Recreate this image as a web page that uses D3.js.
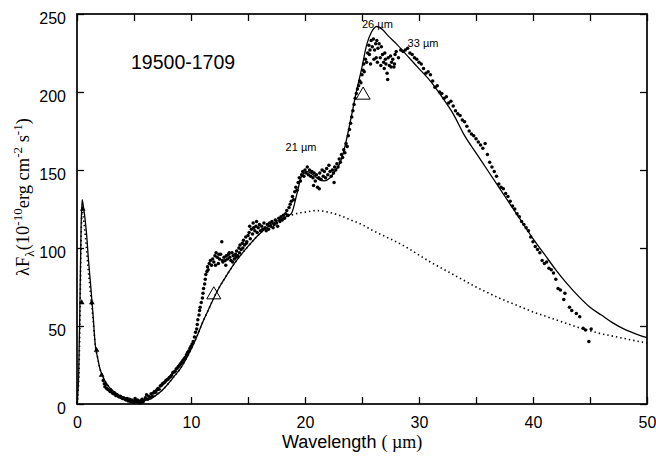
<!DOCTYPE html>
<html>
<head>
<meta charset="utf-8">
<script src="https://cdn.jsdelivr.net/npm/d3@7"></script>
<style>
  body { margin: 0; background: white; }
  svg { display: block; }
</style>
</head>
<body>
<div id="chart"></div>
<script>
//constants
const width = 656;
const height = 457;
const margin = { top: 14, bottom: 53, left: 77, right: 9 };

//x ticks every 5, labels every 10
const xTicks = [0, 5, 10, 15, 20, 25, 30, 35, 40, 45, 50];
const yTicks = [0, 50, 100, 150, 200, 250];

//model curve (solid)
const modelWave = [0, 0.15, 0.25, 0.35, 0.45, 0.55, 0.7, 0.85, 1.0, 1.2, 1.4, 1.6, 1.8, 2.0, 2.3, 2.7, 3.0, 3.5, 4.0, 4.5, 5.0, 5.5, 6.0, 6.5, 7.0, 7.5, 8.0, 8.5, 9.0, 9.5, 10.0, 10.5, 11.0, 11.5, 12.0, 12.5, 13.0, 14.0, 15.0, 16.0, 17.0, 18.0, 18.8, 19.3, 19.7, 20.2, 20.7, 21.2, 21.7, 22.2, 22.7, 23.1, 23.5, 24.0, 24.5, 25.0, 25.4, 25.8, 26.3, 26.8, 27.3, 28.0, 29.0, 30.0, 31.0, 32.0, 33.0, 34.0, 35.0, 36.0, 37.0, 38.0, 39.0, 40.0, 41.0, 42.0, 43.0, 44.0, 45.0, 46.0, 47.0, 48.0, 49.0, 50.0];
const modelFlux = [0, 20, 60, 110, 131, 127, 119, 108, 93, 76, 58, 38, 30, 23, 17, 12, 9.5, 6.5, 4.5, 3, 2.2, 2, 2.5, 3.5, 6, 9, 13, 17.5, 22, 28, 35, 43, 52, 60, 68, 75, 81, 92, 101, 109, 115, 119, 122, 135, 146, 149, 147, 144, 143, 145, 150, 155, 165, 182, 200, 216, 230, 238, 242, 240, 236, 231, 223, 215, 207, 197, 186, 172, 161, 150, 139, 128, 117, 106, 96, 86, 77, 69, 62, 57, 52, 48, 45, 42.5];

//continuum (dotted)
const contWave = [0, 0.15, 0.25, 0.35, 0.45, 0.55, 0.7, 0.85, 1.0, 1.2, 1.4, 1.6, 1.8, 2.0, 2.3, 2.7, 3.0, 3.5, 4.0, 4.5, 5.0, 5.5, 6.0, 6.5, 7.0, 7.5, 8.0, 8.5, 9.0, 9.5, 10.0, 10.5, 11.0, 11.5, 12.0, 12.5, 13.0, 14.0, 15.0, 16.0, 17.0, 18.0, 18.8, 19.5, 20, 21, 22, 23, 24, 25, 26, 27, 28, 29, 30, 31, 32, 33, 34, 35, 36, 37, 38, 39, 40, 41, 42, 43, 44, 45, 46, 47, 48, 49, 50];
const contFlux = [0, 15, 50, 100, 125, 120, 110, 98, 85, 70, 55, 38, 30, 23, 17, 12, 9.5, 6.5, 4.5, 3, 2.2, 2, 2.5, 3.5, 6, 9, 13, 17.5, 22, 28, 35, 43, 52, 60, 68, 75, 81, 92, 101, 109, 115, 119, 121, 122.5, 123, 124, 123, 121, 118, 115, 111, 107.5, 104, 100, 95.5, 91, 87, 83, 79, 75, 71.5, 68, 65, 62, 59, 56.5, 54, 51.5, 49, 47, 45, 43.5, 42, 40.5, 39];

//observed spectrum points [wavelength, flux]
const specPoints = [
  [2.3,15],[2.4,13],[2.45,11],[2.5,12.5],[2.6,10],[2.7,9.5],[2.8,9],[2.9,8],[3.0,8.5],[3.1,7],[3.2,6.5],[3.3,7],[3.4,5.5],[3.5,6],[3.6,5],[3.7,4.5],[3.8,5],[3.9,4],[4.0,3.5],[4.1,4],[4.2,3],[4.3,2.5],[4.4,3.5],[4.5,2],[4.6,3],[4.7,1.5],[4.8,2.5],[4.9,1],[5.0,2],[5.1,3.5],[5.2,1.5],[5.3,2.5],[5.4,1],[5.5,2],[5.6,0.8],[5.7,3],[5.8,1.5],[5.9,2.5],[6.0,4],[6.1,6],[6.2,3],[6.3,5],[6.4,4],[6.5,6.5],[6.6,5],[6.7,7],[6.8,8],[6.9,7.5],[7.0,9],[7.1,10],[7.2,9.5],[7.3,11.5],[7.4,12],[7.5,13],[7.6,13.5],[7.7,14],[7.8,15],[7.9,15.5],[8.0,16],[8.1,17],[8.2,17.5],[8.3,18.5],[8.4,20],[8.5,20.5],[8.6,21],[8.7,22.5],[8.8,23],[8.9,24],[9.0,25],[9.1,26],[9.2,27],[9.3,28],[9.4,29],[9.5,30],[9.6,31.5],[9.7,33],[9.8,34],[9.9,35.5],[10.0,37],[10.1,38.5],[10.2,40],
  [10.3,43],[10.4,46],[10.5,48],[10.55,51],[10.6,54],[10.7,57],[10.75,60],[10.8,62],[10.9,65],[11.0,68],[11.05,71],[11.1,74],[11.2,77],[11.25,80],[11.3,83],[11.4,85],[11.45,88],[11.5,86],[11.6,90],[11.7,92],[11.8,89],[11.9,93],[12.0,91],[12.1,95],[12.15,89],[12.2,97],[12.3,94],[12.4,90],[12.45,96],[12.5,93],[12.6,96],[12.7,104],[12.75,92],[12.8,91],[12.9,94],[13.0,92],[13.05,89],[13.1,95],[13.2,93],[13.3,96],[13.35,97],[13.4,94],[13.5,92],[13.6,97],[13.65,91],[13.7,95],[13.8,93],[13.9,96],[13.95,94],[14.0,98],[14.1,95],[14.2,100],[14.25,97],[14.3,102],[14.4,99],[14.5,103],[14.55,100],[14.6,105],[14.7,102],[14.8,107],[14.85,103],[14.9,104],[15.0,108],[15.1,110],[15.15,114],[15.2,106],[15.3,112],[15.4,109],[15.45,116],[15.5,113],[15.6,111],[15.7,114],[15.75,117],[15.8,110],[15.9,113],
  [16.0,115],[16.1,111],[16.2,114],[16.3,112],[16.4,116],[16.5,113],[16.6,111],[16.7,115],[16.8,112],[16.9,116],[17.0,114],[17.1,117],[17.2,113],[17.3,115],[17.4,118],[17.5,116],[17.6,114],[17.7,119],[17.8,117],[17.9,120],[18.0,118],[18.1,121],[18.2,119],[18.3,122],[18.4,124],[18.5,121],[18.6,126],[18.7,128],[18.8,130],[18.9,133],[19.0,131],[19.1,136],[19.2,139],[19.3,137],[19.4,142],[19.5,145],[19.6,143],[19.7,147],[19.8,149],[19.9,146],[20.0,150],[20.1,148],[20.2,152],[20.3,147],[20.4,150],[20.5,146],[20.6,149],[20.7,145],[20.75,140],[20.8,148],[20.9,143],[21.0,147],[21.1,139],[21.2,145],[21.25,138],[21.3,148],[21.4,144],[21.5,150],[21.6,146],[21.7,149],[21.8,145],[21.9,151],[22.0,147],[22.1,153],[22.2,149],[22.3,146],[22.4,150],[22.5,148],[22.55,142],[22.6,152],[22.7,150],[22.8,154],[22.9,152],
  [23.0,157],[23.1,155],[23.2,160],[23.3,158],[23.4,163],[23.5,161],[23.6,167],[23.7,165],[23.8,172],[23.9,176],[24.0,180],[24.1,184],[24.2,188],[24.3,192],[24.4,196],[24.5,199],[24.6,202],[24.7,204],[24.8,207],[24.9,206],[25.0,211],[25.1,214],[25.15,218],[25.2,213],[25.3,221],[25.4,219],[25.5,225],[25.6,230],[25.65,224],[25.7,227],[25.75,218],[25.8,233],[25.9,229],[26.0,234],[26.05,221],[26.1,227],[26.2,231],[26.25,222],[26.3,233],[26.35,219],[26.4,228],[26.5,231],[26.6,222],[26.65,217],[26.7,229],[26.8,224],[26.9,219],[26.95,215],[27.0,225],[27.05,221],[27.1,218],[27.2,212],[27.25,208],[27.3,222],[27.4,217],[27.5,223],[27.55,216],[27.6,219],[27.7,221],[27.8,216],[27.85,218],[27.9,224],[28.0,226],[28.2,222],[28.4,227],[28.6,226],[28.8,227],[29.0,228],[29.2,225],[29.4,224],[29.6,222],[29.8,221],
  [30.0,219],[30.2,218],[30.4,215],[30.6,212],[30.8,213],[31.0,211],[31.2,207],[31.4,203],[31.6,204],[31.8,200],[32.0,199],[32.2,196],[32.4,197],[32.6,193],[32.8,194],[33.0,191],[33.2,188],[33.4,186],[33.6,185],[33.8,182],[34.0,181],[34.2,178],[34.4,175],[34.6,173],[34.8,172],[35.0,170],[35.2,168],[35.4,166],[35.6,164],[35.8,167],[36.0,160],[36.2,155],[36.4,152],[36.6,149],[36.8,146],[37.0,141],[37.2,139],[37.4,138],[37.6,135],[37.8,133],[38.0,130],[38.2,127],[38.4,125],[38.6,122],[38.8,120],[39.0,117],[39.2,115],[39.4,113],[39.6,111],[39.8,107],[40.0,104],[40.2,101],[40.4,99],[40.6,97],[40.8,92],[41.0,90],[41.2,91],[41.4,87],[41.6,86],[41.8,84],[42.0,80],[42.2,74],[42.4,73],[42.8,71],[42.7,67],[43.2,62],[43.4,60],[43.8,58],[44.1,56],[44.4,48.5],[44.6,47.5],[45.1,48],[44.9,40]
];

//photometry: small filled triangles and large open triangles
const photSmall = [[0.41, 65], [0.5, 125], [1.3, 65], [1.72, 34.5], [2.16, 18.6]];
const photLarge = [[12.0, 70], [25.1, 198]];

//feature labels
const featureLabels = [
  { text: "26 \u00b5m", w: 25.0, f: 241 },
  { text: "33 \u00b5m", w: 29.0, f: 229 },
  { text: "21 \u00b5m", w: 18.3, f: 162 },
];

const sans = "'Liberation Sans', Arial, sans-serif";
const serif = "'Liberation Serif', 'Times New Roman', serif";

const svg = d3
  .select("#chart")
  .append("svg")
  .attr("width", width)
  .attr("height", height);

const x = d3
  .scaleLinear()
  .domain([0, 50])
  .range([margin.left, width - margin.right]);

const y = d3
  .scaleLinear()
  .domain([0, 250])
  .range([height - margin.bottom, margin.top]);

//curves
const model = modelWave.map((w, i) => [w, modelFlux[i]]);
const cont = contWave.map((w, i) => [w, contFlux[i]]);

const line = d3
  .line()
  .x((d) => x(d[0]))
  .y((d) => y(d[1]))
  .curve(d3.curveMonotoneX);

svg
  .append("path")
  .datum(cont)
  .attr("d", line)
  .attr("fill", "none")
  .attr("stroke", "black")
  .attr("stroke-width", 1.6)
  .attr("stroke-dasharray", "1.4,3");

svg
  .append("path")
  .datum(model)
  .attr("d", line)
  .attr("fill", "none")
  .attr("stroke", "black")
  .attr("stroke-width", 1.3);

//spectrum dots
svg
  .selectAll(".spec")
  .data(specPoints)
  .join("circle")
  .attr("class", "spec")
  .attr("cx", (d) => x(d[0]))
  .attr("cy", (d) => y(d[1]))
  .attr("r", 1.75)
  .attr("fill", "black");

//photometry
svg
  .selectAll(".phsmall")
  .data(photSmall)
  .join("path")
  .attr("class", "phsmall")
  .attr("d", d3.symbol(d3.symbolTriangle, 14))
  .attr("transform", (d) => `translate(${x(d[0])},${y(d[1])})`)
  .attr("fill", "black");

svg
  .selectAll(".phlarge")
  .data(photLarge)
  .join("path")
  .attr("class", "phlarge")
  .attr("d", d3.symbol(d3.symbolTriangle, 85))
  .attr("transform", (d) => `translate(${x(d[0])},${y(d[1])})`)
  .attr("fill", "none")
  .attr("stroke", "black")
  .attr("stroke-width", 1);

//axes - ticks point inward on all four sides
const xAxis = d3
  .axisBottom(x)
  .tickValues(xTicks)
  .tickSizeInner(-7)
  .tickSizeOuter(0)
  .tickFormat((d) => (d % 10 === 0 ? d : ""));

const gx = svg
  .append("g")
  .attr("transform", `translate(0, ${y(0)})`)
  .call(xAxis);
gx.selectAll("text")
  .attr("y", 24)
  .attr("dy", null)
  .attr("font-family", sans)
  .attr("font-size", 16)
  .attr("fill", "black");

svg
  .append("g")
  .attr("transform", `translate(0, ${y(250)})`)
  .call(d3.axisTop(x).tickValues(xTicks).tickSizeInner(-7).tickSizeOuter(0).tickFormat(""));

const gy = svg
  .append("g")
  .attr("transform", `translate(${x(0)}, 0)`)
  .call(d3.axisLeft(y).tickValues(yTicks).tickSizeInner(-7).tickSizeOuter(0).tickPadding(11));
gy.selectAll("text")
  .attr("y", 9)
  .attr("dy", null)
  .attr("font-family", sans)
  .attr("font-size", 16)
  .attr("fill", "black");

svg
  .append("g")
  .attr("transform", `translate(${x(50)}, 0)`)
  .call(d3.axisRight(y).tickValues(yTicks).tickSizeInner(-7).tickSizeOuter(0).tickFormat(""));

svg.selectAll(".tick line").attr("stroke", "black").attr("stroke-width", 1.3);
svg.selectAll("path.domain").remove();

//frame
svg
  .append("rect")
  .attr("x", x(0))
  .attr("y", y(250))
  .attr("width", x(50) - x(0))
  .attr("height", y(0) - y(250))
  .attr("fill", "none")
  .attr("stroke", "black")
  .attr("stroke-width", 1.7);

//object name
svg
  .append("text")
  .attr("x", 131)
  .attr("y", 69)
  .attr("font-family", sans)
  .attr("font-size", 19.5)
  .text("19500-1709");

//feature labels
svg
  .selectAll(".feat")
  .data(featureLabels)
  .join("text")
  .attr("class", "feat")
  .attr("x", (d) => x(d.w))
  .attr("y", (d) => y(d.f))
  .attr("font-family", sans)
  .attr("font-size", 11)
  .text((d) => d.text);

//x axis title
const xt = svg
  .append("text")
  .attr("x", 282)
  .attr("y", 448)
  .attr("font-family", sans)
  .attr("font-size", 18);
xt.append("tspan").text("Wavelength ");
xt.append("tspan").attr("font-family", serif).text("( \u00b5m)");

//y axis title, centred a little above the plot middle
const yt = svg
  .append("text")
  .attr("transform", "translate(29, 197) rotate(-90)")
  .attr("text-anchor", "middle")
  .attr("font-family", serif)
  .attr("font-size", 18.5);
yt.append("tspan").text("\u03bbF");
yt.append("tspan").attr("font-size", 13).attr("dy", 5).text("\u03bb");
yt.append("tspan").attr("dy", -5).text("(10");
yt.append("tspan").attr("font-size", 13).attr("dy", -7).text("-10");
yt.append("tspan").attr("dy", 7).text("erg cm");
yt.append("tspan").attr("font-size", 13).attr("dy", -7).text("-2");
yt.append("tspan").attr("dy", 7).text(" s");
yt.append("tspan").attr("font-size", 13).attr("dy", -7).text("-1");
yt.append("tspan").attr("dy", 7).text(")");
</script>
</body>
</html>
